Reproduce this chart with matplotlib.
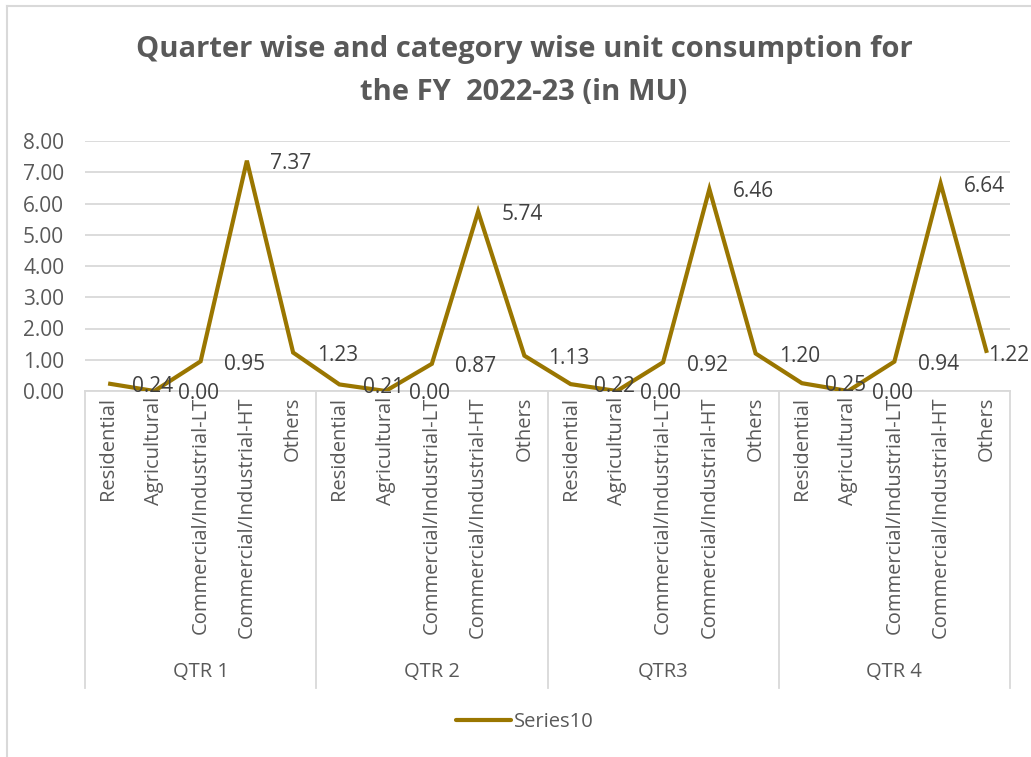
import matplotlib
matplotlib.use("Agg")
import matplotlib.pyplot as plt
from matplotlib.lines import Line2D
import matplotlib.transforms as mtransforms

plt.rcParams['font.family'] = ['Open Sans', 'DejaVu Sans']

quarters = ["QTR 1", "QTR 2", "QTR3", "QTR 4"]
categories = ["Residential", "Agricultural", "Commercial/Industrial-LT",
              "Commercial/Industrial-HT", "Others"]
q1 = [0.24, 0.00, 0.95, 7.37, 1.23]
q2 = [0.21, 0.00, 0.87, 5.74, 1.13]
q3 = [0.22, 0.00, 0.92, 6.46, 1.20]
q4 = [0.25, 0.00, 0.94, 6.64, 1.22]
series_name = "Series10"
title = "Quarter wise and category wise unit consumption for\nthe FY  2022-23 (in MU)"
yticks = [0, 1, 2, 3, 4, 5, 6, 7, 8]

values = q1 + q2 + q3 + q4
labels = categories * len(quarters)
x = list(range(len(values)))

W, H = 1031, 757
fig = plt.figure(figsize=(W / 100, H / 100), dpi=100)
ax = fig.add_axes([85 / W, (H - 391) / H, 925 / W, 250 / H])

line_color = "#9a7600"
grid_color = "#d9d9d9"
text_color = "#595959"
num_fs = 15
cat_fs = 14.5

ax.plot(x, values, color=line_color, lw=3.0, solid_joinstyle='miter',
        solid_capstyle='butt', zorder=3)
ax.set_xlim(-0.5, len(values) - 0.5)
ax.set_ylim(0, 8)
ax.set_yticks(yticks)
ax.set_yticklabels([f"{v:.2f}" for v in yticks], fontsize=num_fs, color=text_color)
ax.yaxis.grid(True, color=grid_color, lw=1.3)
ax.set_axisbelow(True)
for s in ["top", "right", "left"]:
    ax.spines[s].set_visible(False)
ax.spines["bottom"].set_color(grid_color)
ax.spines["bottom"].set_linewidth(1.3)
ax.tick_params(axis='y', length=0, pad=15)
ax.set_xticks(x)
ax.set_xticklabels(labels, rotation=90, fontsize=cat_fs, color=text_color, va='top', ha='center')
ax.tick_params(axis='x', length=0, pad=4)

# data labels
n = len(values)
for i, v in enumerate(values):
    off = 17 if i < n - 1 else 0.5
    ax.annotate(f"{v:.2f}", (i, v), xytext=(off, -2), textcoords='offset points',
                ha='left', va='center', fontsize=num_fs, color="#404040", zorder=4)

# group separators and labels
trans = mtransforms.blended_transform_factory(ax.transData, ax.transAxes)
ybot = (391 - 688) / 250
ngroup = len(categories)
for g in range(len(quarters) + 1):
    xs = g * ngroup - 0.5
    ax.plot([xs, xs], [0, ybot], transform=trans, color=grid_color, lw=1.3, clip_on=False)
for g, q in enumerate(quarters):
    xc = g * ngroup + (ngroup - 1) / 2
    ax.text(xc, (391 - 672) / 250, q, transform=trans, ha='center', va='center',
            fontsize=cat_fs, color=text_color)

fig.text(524 / W, 1 - 50 / H, title.split("\n")[0], ha='center', va='center',
         fontsize=21, fontweight='bold', color=text_color)
fig.text(524 / W, 1 - 92 / H, title.split("\n")[1], ha='center', va='center',
         fontsize=21, fontweight='bold', color=text_color)

handle = Line2D([], [], color=line_color, lw=3.0, solid_capstyle='round')
fig.legend([handle], [series_name], loc='center', bbox_to_anchor=(525 / W, 1 - 722 / H),
           frameon=False, fontsize=cat_fs, labelcolor=text_color, handlelength=2.7,
           handletextpad=0.15)

# chart border
fig.add_artist(Line2D([7 / W, 1], [1 - 6 / H, 1 - 6 / H], transform=fig.transFigure,
                      color=grid_color, lw=1.5))
fig.add_artist(Line2D([7 / W, 7 / W], [0, 1 - 6 / H], transform=fig.transFigure,
                      color=grid_color, lw=1.5))

fig.savefig("out.png", dpi=100)
